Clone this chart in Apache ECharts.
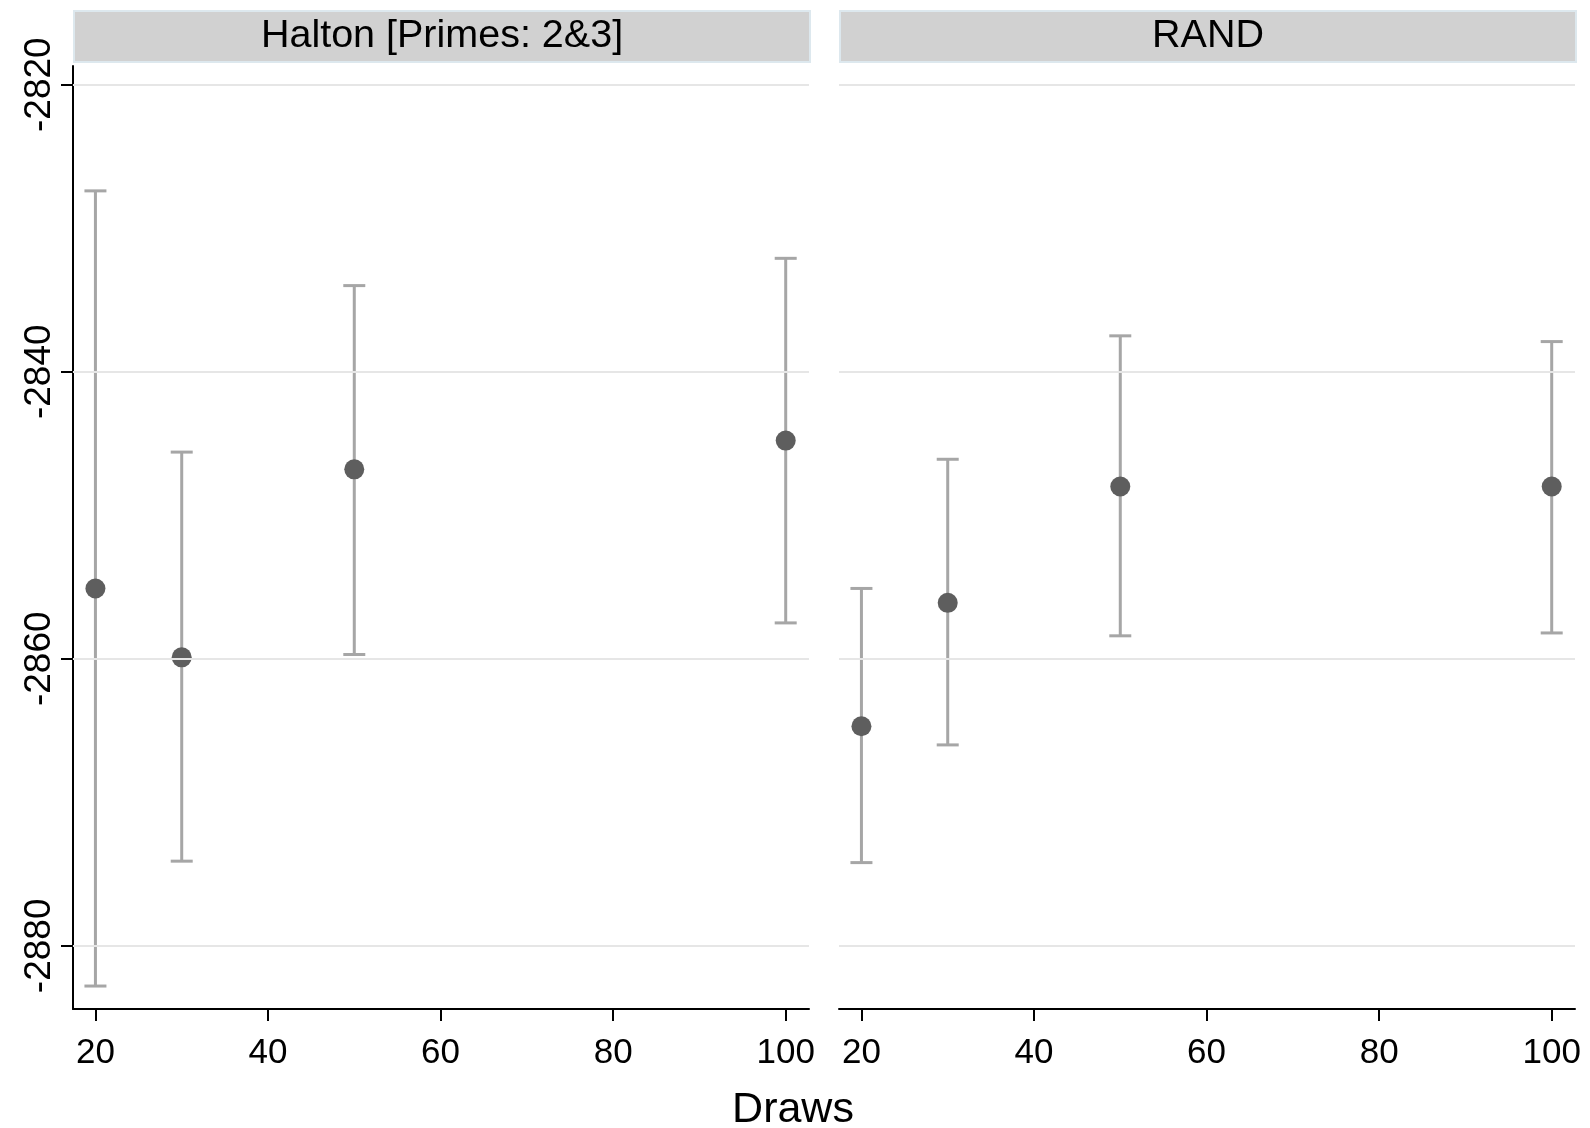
<!DOCTYPE html>
<html>
<head>
<meta charset="utf-8">
<script src="https://cdn.jsdelivr.net/npm/echarts@6/dist/echarts.min.js"></script>
<style>
  html, body { margin: 0; padding: 0; background: #fff; }
  #chart { width: 1590px; height: 1128px; }
</style>
</head>
<body>
<div id="chart"></div>
<script>
// panels
const panels = ['Halton [Primes: 2&3]', 'RAND'];
const draws = [20, 30, 50, 100];

// estimates and confidence bounds, one array per panel
const haltonMean = [-2855.1, -2859.9, -2846.8, -2844.8];
const haltonLow = [-2882.8, -2874.1, -2859.7, -2857.5];
const haltonHigh = [-2827.4, -2845.6, -2834.0, -2832.1];

const randMean = [-2864.7, -2856.1, -2848.0, -2848.0];
const randLow = [-2874.2, -2866.0, -2858.4, -2858.2];
const randHigh = [-2855.1, -2846.1, -2837.5, -2837.9];

const xTicks = [20, 40, 60, 80, 100];
const yTicks = [-2820, -2840, -2860, -2880];

const font = '"Liberation Sans", Arial, sans-serif';
const grids = [
  { left: 73, top: 66, width: 736, height: 943 },
  { left: 839, top: 66, width: 736, height: 943 }
];

const barData = (lo, hi) => draws.map((d, i) => [d, lo[i], hi[i]]);
const pointData = (m) => draws.map((d, i) => [d, m[i]]);

function errorBar(params, api) {
  const x = api.value(0);
  const lo = api.coord([x, api.value(1)]);
  const hi = api.coord([x, api.value(2)]);
  const cap = 11;
  const style = { stroke: '#a6a6a6', lineWidth: 3 };
  return {
    type: 'group',
    children: [
      { type: 'line', shape: { x1: lo[0], y1: lo[1], x2: hi[0], y2: hi[1] }, style },
      { type: 'line', shape: { x1: lo[0] - cap, y1: lo[1], x2: lo[0] + cap, y2: lo[1] }, style },
      { type: 'line', shape: { x1: hi[0] - cap, y1: hi[1], x2: hi[0] + cap, y2: hi[1] }, style }
    ]
  };
}

const xAxes = grids.map((g, i) => ({
  type: 'value', gridIndex: i, min: 17.4, max: 102.7,
  axisLine: { show: true, lineStyle: { color: '#000', width: 2 } },
  axisTick: { show: true, length: 12, customValues: xTicks, lineStyle: { color: '#000', width: 2 } },
  axisLabel: { customValues: xTicks, formatter: v => String(v), color: '#000', fontSize: 35, fontFamily: font, margin: 27 },
  splitLine: { show: false }
}));

const yAxes = grids.map((g, i) => ({
  type: 'value', gridIndex: i, min: -2884.4, max: -2818.7,
  axisLine: { show: i === 0, onZero: false, lineStyle: { color: '#000', width: 2 } },
  axisTick: { show: i === 0, length: 12, customValues: yTicks, lineStyle: { color: '#000', width: 2 } },
  axisLabel: { show: i === 0, customValues: yTicks, formatter: v => String(v), rotate: 90, color: '#000', fontSize: 37, fontFamily: font, margin: 15 },
  splitLine: { show: false }
}));

const series = [];
[[haltonLow, haltonHigh, haltonMean], [randLow, randHigh, randMean]].forEach(([lo, hi, m], i) => {
  series.push({
    type: 'scatter', xAxisIndex: i, yAxisIndex: i, data: [], z: 1,
    markLine: {
      silent: true, symbol: 'none', label: { show: false },
      lineStyle: { color: '#e6e6e6', width: 2, type: 'solid' },
      data: yTicks.map(v => ({ yAxis: v }))
    }
  });
  series.push({
    type: 'custom', xAxisIndex: i, yAxisIndex: i, z: 2,
    renderItem: errorBar, data: barData(lo, hi), encode: { x: 0, y: [1, 2] }
  });
  series.push({
    type: 'scatter', xAxisIndex: i, yAxisIndex: i, z: 3,
    symbolSize: 20, itemStyle: { color: '#5e5e5e', opacity: 1 },
    data: pointData(m)
  });
});

const strips = grids.map((g, i) => ({
  type: 'group', left: g.left, top: 10,
  children: [
    { type: 'rect', shape: { x: 0, y: 0, width: g.width, height: 51 },
      style: { fill: '#d1d1d1', stroke: '#dde8ee', lineWidth: 2 } },
    { type: 'text', x: g.width / 2, y: 25.5,
      style: { text: panels[i], fill: '#000', font: '39.5px ' + font, align: 'center', verticalAlign: 'middle' } }
  ]
}));

const chart = echarts.init(document.getElementById('chart'));
chart.setOption({
  backgroundColor: '#fff',
  animation: false,
  grid: grids,
  xAxis: xAxes,
  yAxis: yAxes,
  series: series,
  graphic: strips.concat([
    { type: 'text', x: 793, y: 1110, style: { text: 'Draws', fill: '#000', font: '43px ' + font, align: 'center', verticalAlign: 'middle' } }
  ])
});
</script>
</body>
</html>
